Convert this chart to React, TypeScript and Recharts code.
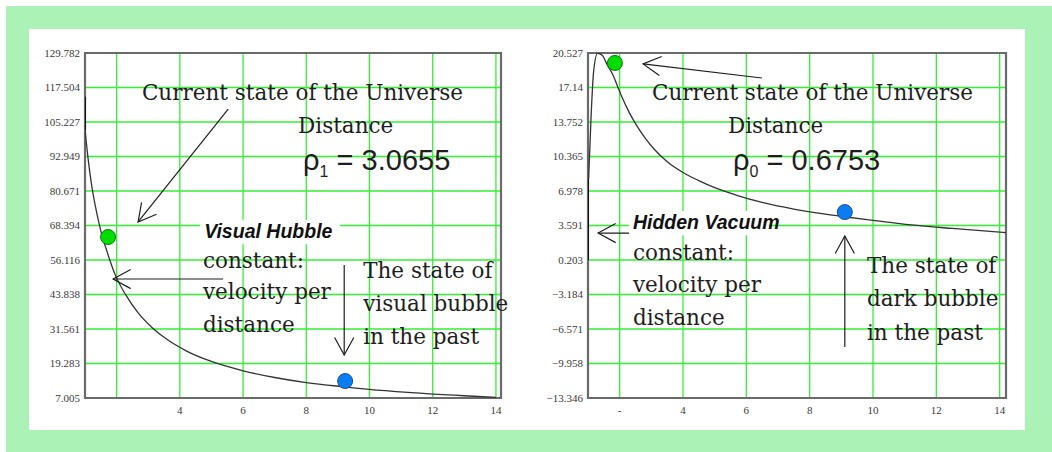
import React from 'react';
import { LineChart, Line, XAxis, YAxis, CartesianGrid, ReferenceArea, ReferenceDot, ReferenceLine } from 'recharts';

// ---------- data ----------
const xTicks = [2, 4, 6, 8, 10, 12, 14];
const leftXLabels = ['', '4', '6', '8', '10', '12', '14'];
const rightXLabels = ['-', '4', '6', '8', '10', '12', '14'];

const leftYTicks = [7.005, 19.283, 31.561, 43.838, 56.116, 68.394, 80.671, 92.949, 105.227, 117.504, 129.782];
const leftYLabels = ['7.005', '19.283', '31.561', '43.838', '56.116', '68.394', '80.671', '92.949', '105.227', '117.504', '129.782'];
const rightYTicks = [-13.346, -9.958, -6.571, -3.184, 0.203, 3.591, 6.978, 10.365, 13.752, 17.14, 20.527];
const rightYLabels = ['\u221213.346', '\u22129.958', '\u22126.571', '\u22123.184', '0.203', '3.591', '6.978', '10.365', '13.752', '17.14', '20.527'];

const leftSpike = [{ x: 1.0, y: 114.2 }, { x: 1.0, y: 102.4 }];
const leftCurve = [
  { x: 1.0, y: 102.5 }, { x: 1.1, y: 92 }, { x: 1.2, y: 83.5 }, { x: 1.35, y: 74 },
  { x: 1.5, y: 66.5 }, { x: 1.7, y: 59 }, { x: 1.95, y: 51 }, { x: 2.3, y: 43.5 },
  { x: 2.7, y: 37 }, { x: 3.1, y: 32.3 }, { x: 3.6, y: 27.8 }, { x: 4.2, y: 23.8 },
  { x: 5, y: 20 }, { x: 6, y: 16.7 }, { x: 7, y: 14.3 }, { x: 8, y: 12.5 },
  { x: 9.2, y: 11 }, { x: 10.5, y: 9.6 }, { x: 12, y: 8.4 }, { x: 13, y: 7.8 }, { x: 14, y: 7.2 },
];
const leftGreen = [{ x: 1.73, y: 64.3 }];
const leftBlue = [{ x: 9.23, y: 13.05 }];

const rightSpike = [{ x: 1.0, y: 0.2 }, { x: 1.0, y: 8.2 }];
const rightCurve = [
  { x: 1.02, y: 8.2 }, { x: 1.1, y: 14.5 }, { x: 1.18, y: 18.8 }, { x: 1.3, y: 20.5 },
  { x: 1.45, y: 20.3 }, { x: 1.6, y: 19.4 }, { x: 1.8, y: 18.3 }, { x: 1.94, y: 17.2 },
  { x: 2.1, y: 16.0 }, { x: 2.3, y: 14.7 }, { x: 2.5, y: 13.6 }, { x: 2.8, y: 12.2 },
  { x: 3.1, y: 11.05 }, { x: 3.5, y: 9.85 }, { x: 4, y: 8.8 }, { x: 4.5, y: 8.0 },
  { x: 5, y: 7.3 }, { x: 5.7, y: 6.55 }, { x: 6.5, y: 5.85 }, { x: 7.5, y: 5.2 },
  { x: 8.5, y: 4.7 }, { x: 9.1, y: 4.45 }, { x: 10, y: 4.1 }, { x: 11.2, y: 3.65 },
  { x: 12.5, y: 3.3 }, { x: 14.2, y: 2.9 },
];
const rightGreen = [{ x: 1.85, y: 19.55 }];
const rightBlue = [{ x: 9.11, y: 4.91 }];

const leftNotes = [
  { x: 2.8, y: 113.06, text: 'Current state of the Universe', kind: 'serif' },
  { x: 7.74, y: 101.31, text: 'Distance', kind: 'serif' },
  { x: 7.9, y: 88.14, text: '\u03c1', sub: '1', rest: ' = 3.0655', kind: 'rho' },
  { x: 4.77, y: 63.8, text: 'Visual Hubble', kind: 'bold' },
  { x: 4.73, y: 53.27, text: 'constant:', kind: 'serif' },
  { x: 4.73, y: 42.23, text: 'velocity per', kind: 'serif' },
  { x: 4.73, y: 30.49, text: 'distance', kind: 'serif' },
  { x: 9.8, y: 49.71, text: 'The state of', kind: 'serif' },
  { x: 9.8, y: 37.97, text: 'visual bubble', kind: 'serif' },
  { x: 9.8, y: 26.22, text: 'in the past', kind: 'serif' },
];
const leftArrows = [
  { from: { x: 5.53, y: 109.85 }, to: { x: 2.68, y: 69.64 } },
  { from: { x: 5.37, y: 49.35 }, to: { x: 1.89, y: 49.35 } },
  { from: { x: 9.2, y: 54.33 }, to: { x: 9.2, y: 22.31 } },
];

const rightNotes = [
  { x: 3.02, y: 15.91, text: 'Current state of the Universe', kind: 'serif' },
  { x: 5.42, y: 12.67, text: 'Distance', kind: 'serif' },
  { x: 5.58, y: 9.04, text: '\u03c1', sub: '0', rest: ' = 0.6753', kind: 'rho' },
  { x: 2.42, y: 3.2, text: 'Hidden Vacuum', kind: 'bold' },
  { x: 2.42, y: 0.2, text: 'constant:', kind: 'serif' },
  { x: 2.42, y: -2.94, text: 'velocity per', kind: 'serif' },
  { x: 2.42, y: -6.18, text: 'distance', kind: 'serif' },
  { x: 9.81, y: -1.07, text: 'The state of', kind: 'serif' },
  { x: 9.81, y: -4.31, text: 'dark bubble', kind: 'serif' },
  { x: 9.81, y: -7.65, text: 'in the past', kind: 'serif' },
];
const rightArrows = [
  { from: { x: 6.49, y: 18.07 }, to: { x: 2.74, y: 19.45 } },
  { from: { x: 4.76, y: 2.85 }, to: { x: 1.32, y: 2.85 } },
  { from: { x: 9.11, y: -8.34 }, to: { x: 9.11, y: 2.56 } },
];

// ---------- styles ----------
const GRID = '#33f033';
const FRAME = '#6a6a6a';
const CURVE = '#333';
const INK = '#1e1e1e';

const ArrowShape = (p: any) => {
  const { x1, y1, x2, y2 } = p;
  if ([x1, y1, x2, y2].some((v) => typeof v !== 'number' || isNaN(v))) return <g />;
  const ang = Math.atan2(y2 - y1, x2 - x1);
  const L = 20;
  const a = 0.5;
  const w1x = x2 - L * Math.cos(ang - a);
  const w1y = y2 - L * Math.sin(ang - a);
  const w2x = x2 - L * Math.cos(ang + a);
  const w2y = y2 - L * Math.sin(ang + a);
  return (
    <g>
      <line x1={x1} y1={y1} x2={x2} y2={y2} stroke={INK} strokeWidth={1.2} />
      <polyline points={`${w1x},${w1y} ${x2},${y2} ${w2x},${w2y}`} fill="none" stroke={INK} strokeWidth={1.2} />
    </g>
  );
};

const makeNote = (n: any) => (p: any) => {
  const { cx, cy } = p;
  if (typeof cx !== 'number' || typeof cy !== 'number') return <g />;
  if (n.kind === 'rho') {
    return (
      <text x={cx} y={cy} fontFamily="'Liberation Sans', Arial, sans-serif" fontSize={29} fill={INK}>
        {n.text}
        <tspan fontSize={16} dy={7}>{n.sub}</tspan>
        <tspan fontSize={29} dy={-7}>{n.rest}</tspan>
      </text>
    );
  }
  if (n.kind === 'bold') {
    const fs = 19.5;
    const w = n.text.length * fs * 0.52 + 8;
    return (
      <g>
        <rect x={cx - 4} y={cy - fs * 0.95} width={w} height={fs * 1.25} fill="#fff" />
        <text x={cx} y={cy} fontFamily="'Liberation Sans', Arial, sans-serif" fontWeight="bold" fontStyle="italic" fontSize={fs} fill="#111">
          {n.text}
        </text>
      </g>
    );
  }
  return (
    <text x={cx} y={cy} fontFamily="'DejaVu Serif', serif" fontSize={21.5} fill={INK}>
      {n.text}
    </text>
  );
};

const GreenDot = (p: any) =>
  typeof p.cx === 'number' ? <circle cx={p.cx} cy={p.cy} r={7.5} fill="#00dd00" stroke="#0b7a0b" strokeWidth={1} /> : <g />;
const BlueDot = (p: any) =>
  typeof p.cx === 'number' ? <circle cx={p.cx} cy={p.cy} r={7.5} fill="#0a7df2" stroke="#1a4c8c" strokeWidth={1} /> : <g />;

const tickFont = { fontSize: 11, fill: '#3a3a3a', fontFamily: "'Liberation Serif', serif" };

function Panel(props: any) {
  const { yTicks, yLabels, xLabels, xMax, spike, curve, green, blue, notes, arrows, yAxisWidth, marginRight } = props;
  const yMin = yTicks[0];
  const yMax = yTicks[yTicks.length - 1];
  return (
    <LineChart width={520} height={430} margin={{ top: 53, right: marginRight, left: 0, bottom: 0 }}>
      <CartesianGrid stroke={GRID} strokeWidth={1.3} />
      <XAxis
        dataKey="x"
        type="number"
        domain={[1, xMax]}
        ticks={xTicks}
        allowDataOverflow
        height={32}
        axisLine={false}
        tickLine={false}
        tick={tickFont}
        tickFormatter={(v: number) => xLabels[xTicks.indexOf(v)] ?? ''}
        interval={0}
      />
      <YAxis
        type="number"
        domain={[yMin, yMax]}
        ticks={yTicks}
        allowDataOverflow
        width={yAxisWidth}
        axisLine={false}
        tickLine={false}
        tickSize={3}
        tickMargin={2}
        tick={tickFont}
        tickFormatter={(v: number) => yLabels[yTicks.indexOf(v)] ?? ''}
        interval={0}
      />
      <ReferenceArea x1={1} x2={xMax} y1={yMin} y2={yMax} fill="none" stroke={FRAME} strokeWidth={2.2} ifOverflow="visible" />
      <Line data={spike} dataKey="y" type="linear" stroke="#111" strokeWidth={2} dot={false} isAnimationActive={false} />
      <Line data={curve} dataKey="y" type="monotone" stroke={CURVE} strokeWidth={1.3} dot={false} isAnimationActive={false} />
      <Line data={green} dataKey="y" stroke="none" dot={GreenDot} isAnimationActive={false} />
      <Line data={blue} dataKey="y" stroke="none" dot={BlueDot} isAnimationActive={false} />
      {arrows.map((a: any, i: number) => (
        <ReferenceLine key={'a' + i} segment={[a.from, a.to]} ifOverflow="visible" shape={ArrowShape} />
      ))}
      {notes.map((n: any, i: number) => (
        <ReferenceDot key={'n' + i} x={n.x} y={n.y} r={0} ifOverflow="visible" shape={makeNote(n)} />
      ))}
    </LineChart>
  );
}

export default function App() {
  return (
    <div style={{ position: 'absolute', left: 0, top: 0, width: 1052, height: 452, background: '#fff', overflow: 'hidden' }}>
      <div style={{ position: 'absolute', left: 6, top: 6, right: 0, bottom: 0, background: '#abf2b7' }} />
      <div style={{ position: 'absolute', left: 29, top: 29, width: 996, height: 401, background: '#fff' }} />
      <div style={{ position: 'absolute', left: 0, top: 0 }}>
        <Panel
          yTicks={leftYTicks}
          yLabels={leftYLabels}
          xLabels={leftXLabels}
          xMax={14.16}
          spike={leftSpike}
          curve={leftCurve}
          green={leftGreen}
          blue={leftBlue}
          notes={leftNotes}
          arrows={leftArrows}
          yAxisWidth={85}
          marginRight={19}
        />
      </div>
      <div style={{ position: 'absolute', left: 500, top: 0 }}>
        <Panel
          yTicks={rightYTicks}
          yLabels={rightYLabels}
          xLabels={rightXLabels}
          xMax={14.2}
          spike={rightSpike}
          curve={rightCurve}
          green={rightGreen}
          blue={rightBlue}
          notes={rightNotes}
          arrows={rightArrows}
          yAxisWidth={88}
          marginRight={14}
        />
      </div>
    </div>
  );
}
